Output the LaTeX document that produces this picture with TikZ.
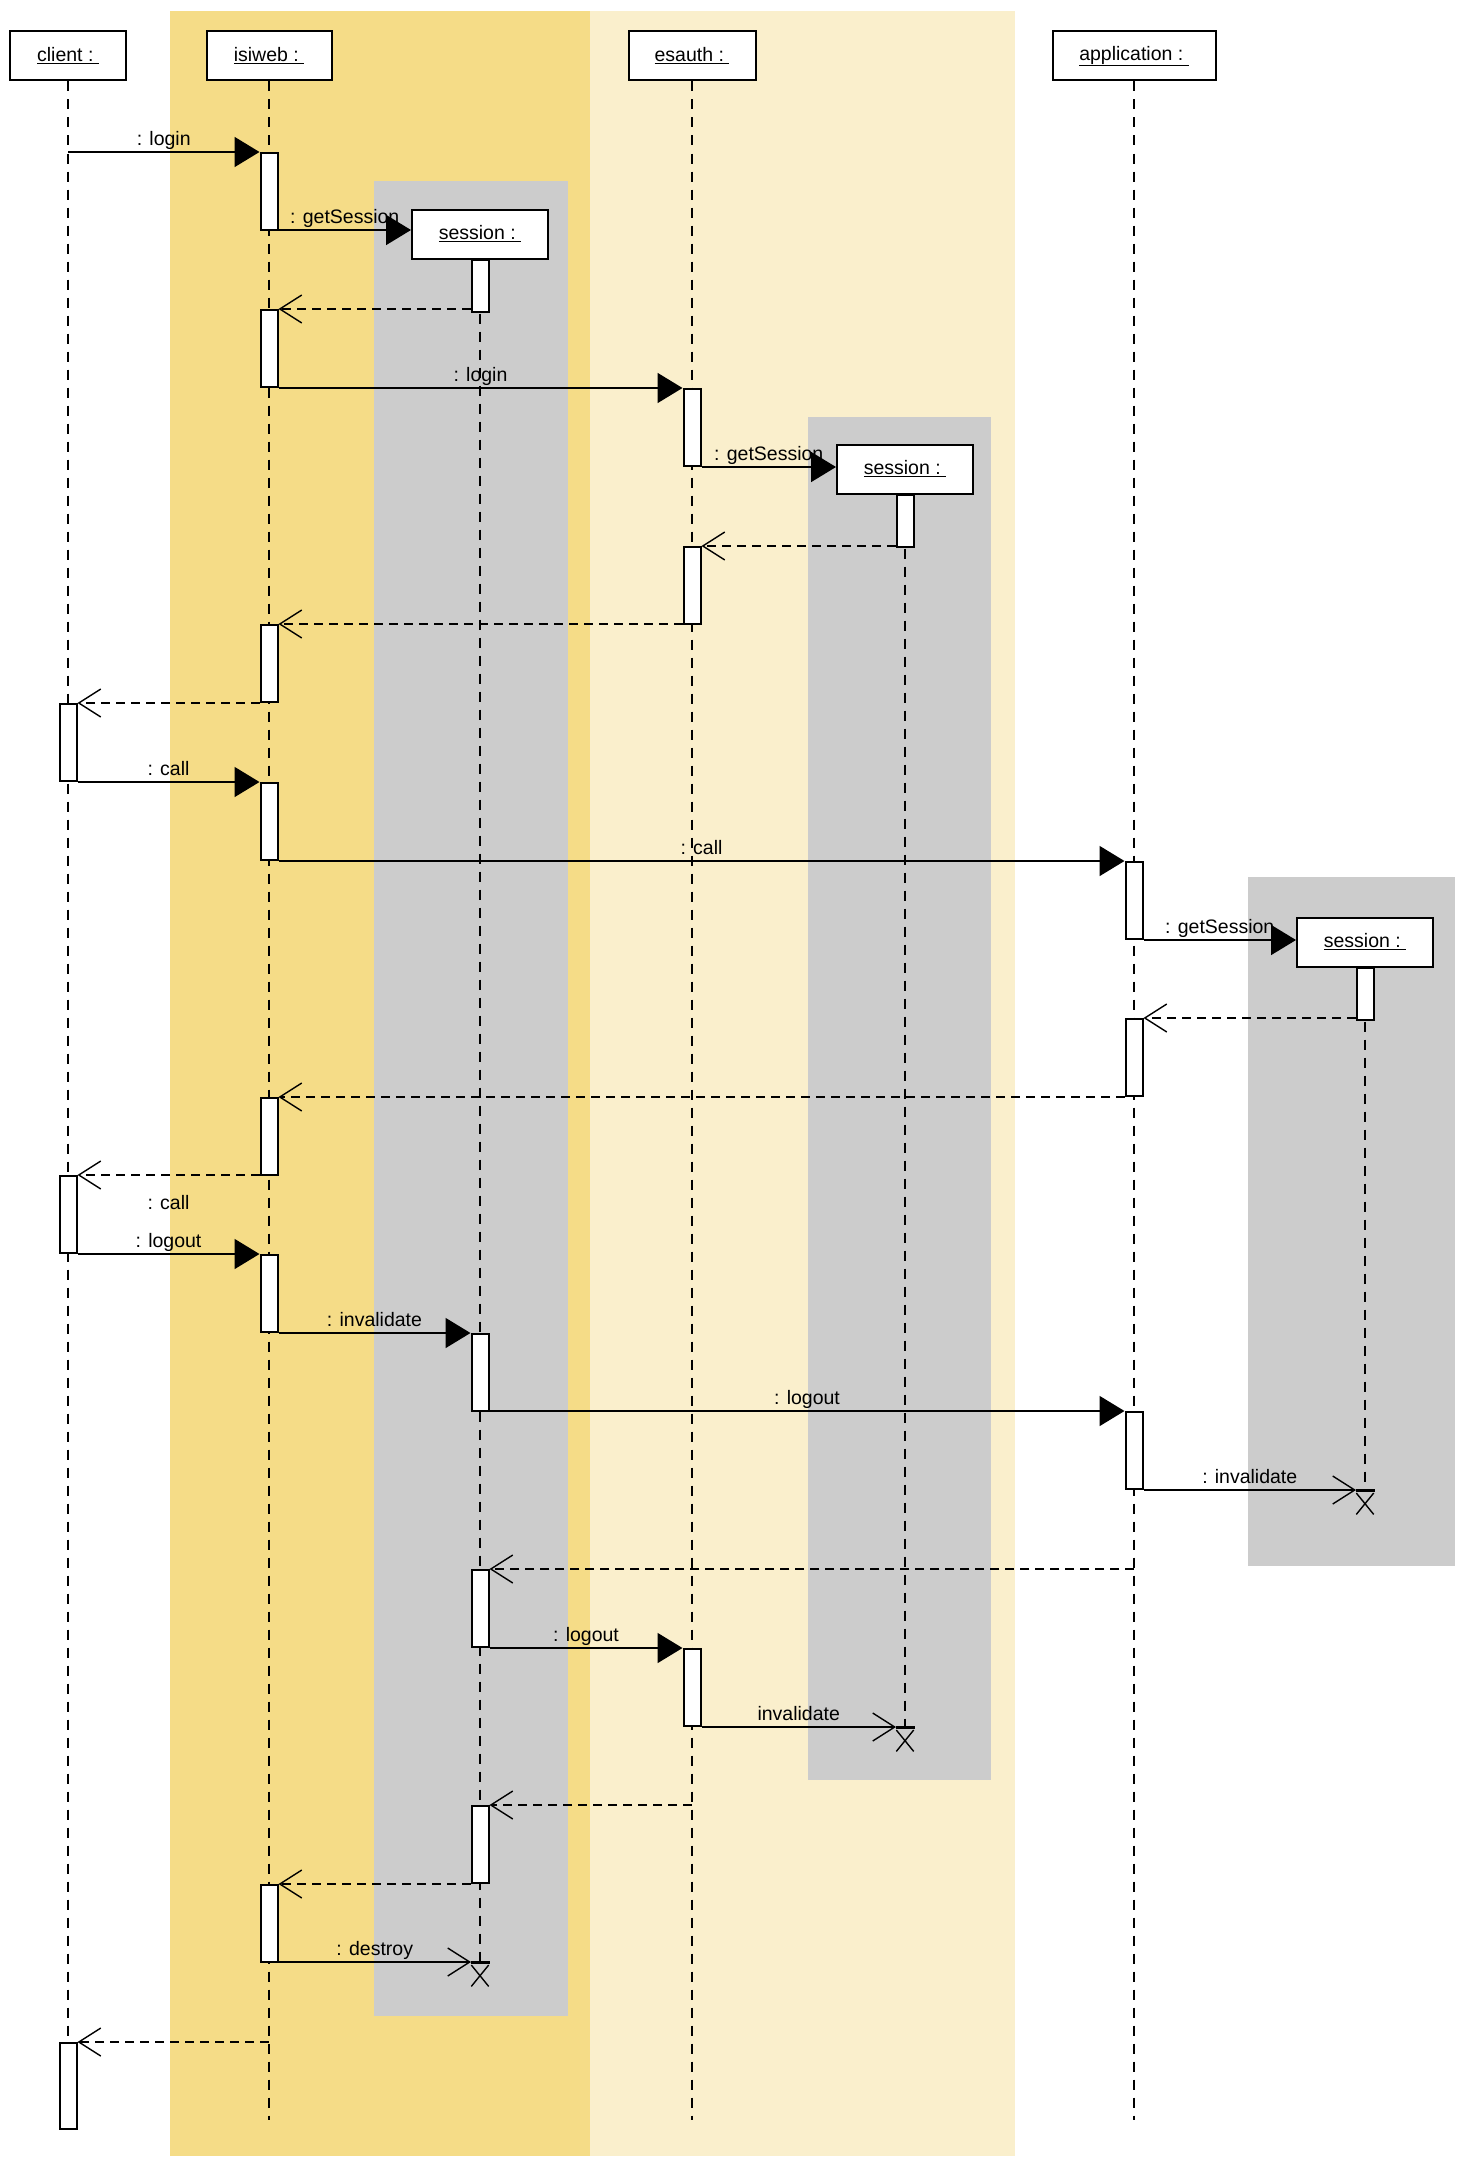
\documentclass[tikz,border=0pt]{standalone}
\usepackage{fontspec}
\setmainfont{Liberation Sans}
\usetikzlibrary{arrows.meta,shapes.misc}
\definecolor{laneA}{HTML}{F5DC87}
\definecolor{laneB}{HTML}{FAEFCC}
\definecolor{laneS}{HTML}{CCCCCC}
\tikzset{
  head/.style={draw, fill=white, line width=2pt, minimum height=49pt, inner sep=0pt,
    font=\fontsize{19.5}{23}\selectfont},
  act/.style={draw, fill=white, line width=2pt, minimum width=17pt, minimum height=77pt,
    inner sep=0pt, anchor=north},
  life/.style={line width=1.3pt, dash pattern=on 10pt off 8pt},
  call/.style={line width=1.7pt, -{Triangle[length=25pt,width=30pt]}},
  ret/.style={line width=1.7pt, dash pattern=on 9pt off 6pt,
    -{Straight Barb[length=22pt,width=28pt,line width=1.4pt]}},
  kill/.style={line width=1.7pt, -{Straight Barb[length=22pt,width=28pt,line width=1.4pt]}},
  msg/.style={font=\fontsize{19.5}{23}\selectfont, inner sep=2pt, text height=14pt, text depth=4pt},
  xmark/.style={cross out, draw, line width=1.4pt, minimum width=16pt, minimum height=20pt,
    inner sep=0pt, anchor=north}
}

\begin{document}
\begin{tikzpicture}[x=1pt,y=-1pt]
    \useasboundingbox (0,0) rectangle (1468,2165);

    % swimlanes
    \fill[laneA] (170,11) rectangle (590,2156);
    \fill[laneB] (590,11) rectangle (1015,2156);
    \fill[laneS] (374,181) rectangle (568,2016);
    \fill[laneS] (808,417) rectangle (991,1780);
    \fill[laneS] (1248,877) rectangle (1455,1566);

    \coordinate (end) at (0,2120);
    \coordinate (d1) at (480,1962);
    \coordinate (d2) at (905,1727);
    \coordinate (d3) at (1365,1490);

    % objects
    \node[head, minimum width=116pt] (client) at (68,56) {\underline{client :\ }};
    \node[head, minimum width=125pt] (isiweb) at (269,56) {\underline{isiweb :\ }};
    \node[head, minimum width=127pt] (esauth) at (692,56) {\underline{esauth :\ }};
    \node[head, minimum width=163pt] (app) at (1134,56) {\underline{application :\ }};
    \node[head, minimum width=136pt] (sess1) at (480,234) {\underline{session :\ }};
    \node[head, minimum width=136pt] (sess2) at (905,469) {\underline{session :\ }};
    \node[head, minimum width=136pt] (sess3) at (1365,942) {\underline{session :\ }};

    % lifelines
    \draw[life] (client.south) -- (client.south |- end);
    \draw[life] (isiweb.south) -- (isiweb.south |- end);
    \draw[life] (esauth.south) -- (esauth.south |- end);
    \draw[life] (app.south) -- (app.south |- end);
    \draw[life] (sess1.south) -- (d1);
    \draw[life] (sess2.south) -- (d2);
    \draw[life] (sess3.south) -- (d3);

    % activations
    \node[act] (is1) at (269,152) {};
    \node[act, minimum height=52pt] (s1a) at (480,259) {};
    \node[act] (is2) at (269,309) {};
    \node[act] (ea1) at (692,388) {};
    \node[act, minimum height=52pt] (s2a) at (905,494) {};
    \node[act] (ea2) at (692,546) {};
    \node[act] (is3) at (269,624) {};
    \node[act] (cl1) at (68,703) {};
    \node[act] (is4) at (269,782) {};
    \node[act] (ap1) at (1134,861) {};
    \node[act, minimum height=52pt] (s3a) at (1365,967) {};
    \node[act] (ap2) at (1134,1018) {};
    \node[act] (is5) at (269,1097) {};
    \node[act] (cl2) at (68,1175) {};
    \node[act] (is6) at (269,1254) {};
    \node[act] (s1b) at (480,1333) {};
    \node[act] (ap3) at (1134,1411) {};
    \node[act] (s1c) at (480,1569) {};
    \node[act] (ea3) at (692,1648) {};
    \node[act] (s1d) at (480,1805) {};
    \node[act] (is7) at (269,1884) {};
    \node[act, minimum height=86pt] (cl3) at (68,2042) {};

    % messages
    \draw[call] (client |- is1.north) -- node[msg, above] {: login} (is1.north west);
    \draw[call] (is1.east |- sess1.west) ++(0,-4) -- node[msg, above] {: getSession} ([yshift=4pt]sess1.west);
    \draw[ret] (s1a.west |- is2.north) -- (is2.north east);
    \draw[call] (is2.east |- ea1.north) -- node[msg, above] {: login} (ea1.north west);
    \draw[call] (ea1.east |- sess2.west) ++(0,-2) -- node[msg, above] {: getSession} ([yshift=2pt]sess2.west);
    \draw[ret] (s2a.west |- ea2.north) -- (ea2.north east);
    \draw[ret] (ea2.west |- is3.north) -- (is3.north east);
    \draw[ret] (is3.west |- cl1.north) -- (cl1.north east);
    \draw[call] (cl1.east |- is4.north) -- node[msg, above] {: call} (is4.north west);
    \draw[call] (is4.east |- ap1.north) -- node[msg, above] {: call} (ap1.north west);
    \draw[call] (ap1.east |- sess3.west) ++(0,-2) -- node[msg, above] {: getSession} ([yshift=2pt]sess3.west);
    \draw[ret] (s3a.west |- ap2.north) -- (ap2.north east);
    \draw[ret] (ap2.west |- is5.north) -- (is5.north east);
    \draw[ret] (is5.west |- cl2.north) -- node[msg, below=18pt] {: call} (cl2.north east);
    \draw[call] (cl2.east |- is6.north) -- node[msg, above] {: logout} (is6.north west);
    \draw[call] (is6.east |- s1b.north) -- node[msg, above] {: invalidate} (s1b.north west);
    \draw[call] (s1b.east |- ap3.north) -- node[msg, above] {: logout} (ap3.north west);
    \draw[kill] (ap3.east |- d3) -- node[msg, above] {: invalidate} ([xshift=-9pt]d3);
    \draw[ret] (app |- s1c.north) -- (s1c.north east);
    \draw[call] (s1c.east |- ea3.north) -- node[msg, above] {: logout} (ea3.north west);
    \draw[kill] (ea3.east |- d2) -- node[msg, above] {invalidate} ([xshift=-9pt]d2);
    \draw[ret] (esauth |- s1d.north) -- (s1d.north east);
    \draw[ret] (s1d.west |- is7.north) -- (is7.north east);
    \draw[kill] (is7.east |- d1) -- node[msg, above] {: destroy} ([xshift=-9pt]d1);
    \draw[ret] (isiweb |- cl3.north) -- (cl3.north east);

    % destruction
    \foreach \d in {d1,d2,d3} {
        \draw[line width=3pt] ([xshift=-9pt]\d) -- ([xshift=10pt]\d);
        \node[xmark] (x\d) at ([yshift=-3pt]\d) {};
    }
\end{tikzpicture}
\end{document}
